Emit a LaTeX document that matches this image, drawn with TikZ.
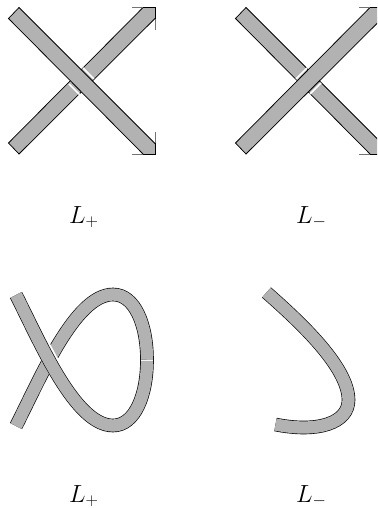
\documentclass[tikz,border=0pt]{standalone}
\definecolor{band}{gray}{0.7}
\tikzset{
  edge/.style={draw=black,line width=0.75bp},
  tick/.style={draw=black!55,line width=0.75bp},
  outerline/.style={draw=black,line width=13.6bp},
  innerline/.style={draw=band,line width=12.3bp},
  gapline/.style={draw=white,line width=15.4bp},
  seam/.style={draw=white!85!band,line width=0.5bp},
  lab/.style={inner sep=0pt,anchor=base west,font=\fontsize{23bp}{27bp}\selectfont}
}
\newcommand{\underband}{%
  \fill[band] (8.5,143) -- (19,154) -- (155,18.5) -- (155,7.5) -- (143,7.5) -- cycle;
  \draw[edge] (143,7.5) -- (8.5,143) -- (19,154) -- (155,18.5);
}
\newcommand{\overband}{%
  \fill[band] (8.5,18.5) -- (19,7.5) -- (155,143.5) -- (155,154) -- (143,154) -- cycle;
  \draw[edge] (143,154) -- (8.5,18.5) -- (19,7.5) -- (155,143.5);
}
\newcommand{\arrowtop}{%
  \draw[tick] (132,7.5) -- (143,7.5);
  \draw[tick] (155,19) -- (155,30);
  \draw[edge,line cap=rect] (143,7.5) -- (155,7.5) -- (155,19);
}
\newcommand{\arrowbot}{%
  \draw[tick] (132,154) -- (143,154);
  \draw[tick] (155,143.5) -- (155,132);
  \draw[edge,line cap=rect] (143,154) -- (155,154) -- (155,143.5);
}
\begin{document}
\begin{tikzpicture}[x=1bp,y=-1bp]
\useasboundingbox (0,0) rectangle (377,508);
\clip (0,0) rectangle (377,508);
% top left: L+
\underband
\arrowtop
\draw[white,line width=1.6bp] (69,84) -- (80,95);
\draw[white,line width=1.6bp] (83,68) -- (94,79);
\overband
\arrowbot
% top right: L-
\begin{scope}[xshift=227bp]
\overband
\arrowbot
\draw[white,line width=1.6bp] (80,68) -- (69,79);
\draw[white,line width=1.6bp] (94,83) -- (83,94);
\underband
\arrowtop
\end{scope}
% bottom left knot
\coordinate (kneeA) at (113,425.5);
\coordinate (far) at (147,360);
\coordinate (kneeB) at (113,294.5);
\coordinate (sa) at (16,295);
\coordinate (sb) at (16,426);
\draw[outerline] (far) .. controls (147,325) and (135,294.5) .. (kneeB) .. controls (75,294.5) and (40,379) .. (sb);
\draw[innerline] (far) .. controls (147,325) and (135,294.5) .. (kneeB) .. controls (75,294.5) and (40,379) .. (sb);
\draw[gapline] (42,345) -- (58,375);
\draw[outerline] (sa) .. controls (40,342) and (75,425.5) .. (kneeA) .. controls (135,425.5) and (147,395) .. (far);
\draw[innerline] (sa) .. controls (40,342) and (75,425.5) .. (kneeA) .. controls (135,425.5) and (147,395) .. (far);
\draw[seam] (140.5,360) -- (153,360);
% bottom right arc
\coordinate (ra) at (266.5,292.5);
\coordinate (rb) at (348.5,400);
\coordinate (rc) at (275.5,424.5);
\draw[outerline] (ra) .. controls (300,322) and (348.5,367) .. (rb) .. controls (348.5,423) and (318,433) .. (rc);
\draw[innerline] (ra) .. controls (300,322) and (348.5,367) .. (rb) .. controls (348.5,423) and (318,433) .. (rc);
% labels
\node[lab] (l1) at (69,223) {$L_+$};
\node[lab] (l2) at (296,223) {$L_-$};
\node[lab] (l3) at (69,502) {$L_+$};
\node[lab] (l4) at (296,502) {$L_-$};
\end{tikzpicture}
\end{document}
